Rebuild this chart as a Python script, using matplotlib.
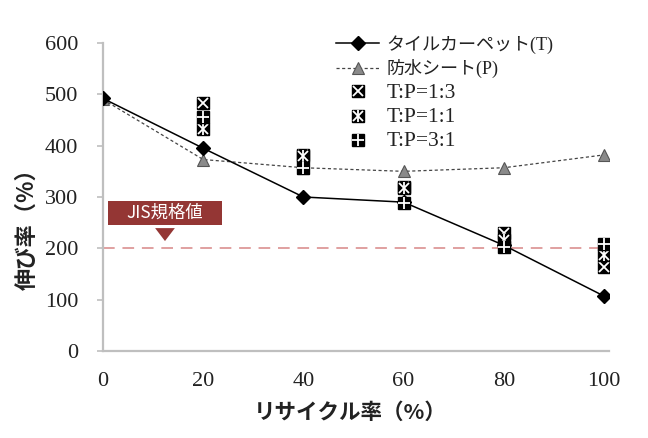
import matplotlib
matplotlib.use("Agg")
import matplotlib.pyplot as plt
from matplotlib.patches import Rectangle, Polygon

# ---- data ----
recycle = [0, 20, 40, 60, 80, 100]
tile_T = [492, 395, 300, 290, 206, 107]
sheet_P = [490, 373, 357, 350, 357, 382]

mix_x = [20, 40, 60, 80, 100]
mix_13 = [483, 381, 320, 230, 164]
mix_11 = [432, 379, 318, 217, 187]
mix_31 = [455, 357, 288, 203, 208]

jis_value = 200
xticks = [0, 20, 40, 60, 80, 100]
yticks = [0, 100, 200, 300, 400, 500, 600]

label_T = "タイルカーペット(T)"
label_P = "防水シート(P)"
label_13 = "T:P=1:3"
label_11 = "T:P=1:1"
label_31 = "T:P=3:1"
jis_label = "JIS規格値"
xlabel = "リサイクル率（%）"
ylabel = "伸び率（%）"

serif_mix = ["Liberation Serif", "Noto Sans CJK JP"]
cjk = ["Noto Sans CJK JP", "DejaVu Sans"]

fig = plt.figure(figsize=(6.48, 4.38), dpi=100)
ax = fig.add_axes([103/648, 1-351/438, 506/648, 308/438])
ax.set_xlim(0, 101)
ax.set_ylim(0, 600)

grey = "#bfbfbf"
for s in ["top", "right"]:
    ax.spines[s].set_visible(False)
for s in ["left", "bottom"]:
    ax.spines[s].set_color(grey)
    ax.spines[s].set_linewidth(1.6)

ax.set_xticks(xticks)
ax.set_yticks(yticks)
ax.tick_params(axis="x", length=0, pad=15, labelsize=16)
ax.tick_params(axis="y", length=4, width=1.2, color=grey, pad=14, labelsize=16)
for lab in ax.get_xticklabels() + ax.get_yticklabels():
    lab.set_family("Liberation Serif")
    lab.set_color("#222222")

# JIS line
ax.axhline(jis_value, color="#e0a0a0", lw=1.4, dashes=(6, 4), zorder=1)

# series
hT, = ax.plot(recycle, tile_T, color="black", lw=1.1, marker="D", ms=7,
              mfc="black", mec="black", zorder=3)
hP, = ax.plot(recycle, sheet_P, color="#444444", lw=0.9, dashes=(2.5, 2),
              marker="^", ms=8.5, mfc="#8a8a8a", mec="#555555", mew=0.8, zorder=2)

def mix(yvals, overlays, z):
    hs = []
    h, = ax.plot(mix_x, yvals, ls="none", marker="s", ms=8, mfc="black", mec="black", zorder=z)
    hs.append(h)
    for m, ms in overlays:
        h, = ax.plot(mix_x, yvals, ls="none", marker=m, ms=ms, mec="white", mew=1.3, zorder=z)
        hs.append(h)
    return tuple(hs)

h13 = mix(mix_13, [("x", 7)], 4)
h11 = mix(mix_11, [("x", 7), ("|", 8)], 5)
h31 = mix(mix_31, [("+", 9)], 6)

leg = ax.legend([hT, hP, h13, h11, h31], [label_T, label_P, label_13, label_11, label_31],
                loc="upper left", bbox_to_anchor=(336/648, 1-35/438),
                bbox_transform=fig.transFigure, frameon=False,
                prop={"family": serif_mix, "size": 13}, handlelength=2.4,
                handletextpad=0.4, labelspacing=0.3, borderpad=0, borderaxespad=0)
for t in leg.get_texts()[2:]:
    t.set_fontsize(15.5)
for t in leg.get_texts():
    t.set_color("#222222")

# JIS label box
ax.add_patch(Rectangle((0.0099, 0.409), 0.225, 0.078, transform=ax.transAxes,
                       facecolor="#943634", edgecolor="none", zorder=5, clip_on=False))
ax.add_patch(Polygon([(0.103, 0.399), (0.142, 0.399), (0.1225, 0.357)], closed=True,
                     transform=ax.transAxes, facecolor="#943634", edgecolor="none", zorder=5))
ax.text(0.122, 0.448, jis_label, transform=ax.transAxes, ha="center", va="center",
        color="white", fontsize=12.5, family=cjk, zorder=6)

ax.set_xlabel(xlabel, family=cjk, fontweight="bold", fontsize=15.5, color="#222222")
ax.set_ylabel(ylabel, family=cjk, fontweight="bold", fontsize=16, color="#222222")
ax.xaxis.set_label_coords(0.488, -0.165)
ax.yaxis.set_label_coords(-0.128, 0.415)

fig.savefig("out.png", dpi=100)
